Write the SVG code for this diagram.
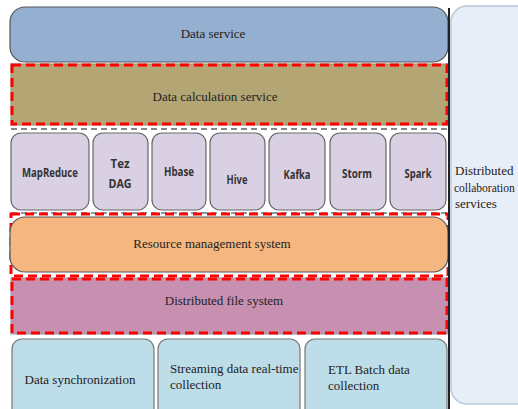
<svg xmlns="http://www.w3.org/2000/svg" width="518" height="409" viewBox="0 0 518 409">
<style>
.serif{font-family:"Liberation Serif","DejaVu Serif","Times New Roman",serif;font-size:13px;fill:#222}
.comp{font-family:"Open Sans","Liberation Sans",sans-serif;font-size:12px;font-weight:bold;fill:#333}
.layer{stroke:#555;stroke-width:1.2}
.red{fill:none;stroke:#ff0000;stroke-width:3;stroke-dasharray:9 5}
.cbox{fill:#d9d0e4;stroke:#666;stroke-width:1.2}
.bbox{fill:#bddde8;stroke:#777;stroke-width:1.2}
</style>
<rect x="0" y="0" width="518" height="409" fill="#ffffff"/>
<g id="collab">
<rect x="451" y="6" width="85" height="398" rx="16" fill="#e8eef8" stroke="#b8c8d8" stroke-width="1.5"/>
<text class="serif" x="455" y="175">Distributed</text>
<text class="serif" x="454" y="192" style="font-size:11.5px">collaboration</text>
<text class="serif" x="455" y="208">services</text>
</g>
<g id="data-service">
<rect x="10" y="7" width="438" height="55" rx="15" fill="#95afd0" class="layer"/>
<text class="serif" x="213" y="38" text-anchor="middle">Data service</text>
</g>
<g id="data-calc">
<rect x="11" y="64" width="437" height="61" fill="#b3a674" stroke="#7a9a7a" stroke-width="1"/>
<rect x="12" y="65" width="435" height="59" class="red"/>
<text class="serif" x="215" y="101" text-anchor="middle">Data calculation service</text>
</g>
<g id="components">
<line x1="11" y1="129" x2="447" y2="129" stroke="#888" stroke-width="2" stroke-dasharray="6 4"/>
<line x1="11" y1="213" x2="447" y2="213" stroke="#8a9aa0" stroke-width="2" stroke-dasharray="6 4"/>
<g id="mapreduce"><rect x="11" y="133" width="78" height="77" rx="10" class="cbox"/><text class="comp" x="50" y="177" text-anchor="middle" textLength="56" lengthAdjust="spacingAndGlyphs">MapReduce</text></g>
<g id="tez"><rect x="93" y="133" width="55" height="77" rx="10" class="cbox"/><text class="comp" x="120" y="168" text-anchor="middle" textLength="19" lengthAdjust="spacingAndGlyphs">Tez</text><text class="comp" x="120" y="188" text-anchor="middle" textLength="23" lengthAdjust="spacingAndGlyphs">DAG</text></g>
<g id="hbase"><rect x="152" y="133" width="54" height="77" rx="10" class="cbox"/><text class="comp" x="179" y="176" text-anchor="middle" textLength="30" lengthAdjust="spacingAndGlyphs">Hbase</text></g>
<g id="hive"><rect x="210" y="133" width="55" height="77" rx="10" class="cbox"/><text class="comp" x="237" y="184" text-anchor="middle" textLength="21" lengthAdjust="spacingAndGlyphs">Hive</text></g>
<g id="kafka"><rect x="269" y="133" width="56" height="77" rx="10" class="cbox"/><text class="comp" x="297" y="179" text-anchor="middle" textLength="27" lengthAdjust="spacingAndGlyphs">Kafka</text></g>
<g id="storm"><rect x="330" y="133" width="56" height="77" rx="10" class="cbox"/><text class="comp" x="357" y="178" text-anchor="middle" textLength="30" lengthAdjust="spacingAndGlyphs">Storm</text></g>
<g id="spark"><rect x="390" y="133" width="56" height="77" rx="10" class="cbox"/><text class="comp" x="418" y="178" text-anchor="middle" textLength="27" lengthAdjust="spacingAndGlyphs">Spark</text></g>
</g>
<g id="resource">
<rect x="11" y="214" width="437" height="62" class="red"/>
<rect x="10" y="217" width="438" height="55" rx="15" fill="#f5b77f" class="layer"/>
<text class="serif" x="212" y="248" text-anchor="middle">Resource management system</text>
</g>
<g id="dfs">
<rect x="11" y="278" width="437" height="56" fill="#c790b0" stroke="#8a9ab0" stroke-width="1"/>
<rect x="12" y="279" width="435" height="54" class="red"/>
<text class="serif" x="224" y="305" text-anchor="middle">Distributed file system</text>
</g>
<g id="data-sync">
<rect x="12" y="339" width="142" height="80" rx="10" class="bbox"/>
<text class="serif" x="80" y="384" text-anchor="middle">Data synchronization</text>
</g>
<g id="streaming">
<rect x="158" y="339" width="142" height="80" rx="10" class="bbox"/>
<text class="serif" x="170" y="373">Streaming data real-time</text>
<text class="serif" x="170" y="389">collection</text>
</g>
<g id="etl">
<rect x="305" y="339" width="142" height="80" rx="10" class="bbox"/>
<text class="serif" x="328" y="374">ETL Batch data</text>
<text class="serif" x="328" y="390">collection</text>
</g>
<g id="connectors">
<line x1="449" y1="8" x2="449" y2="409" stroke="#222" stroke-width="2"/>
</g>
</svg>
